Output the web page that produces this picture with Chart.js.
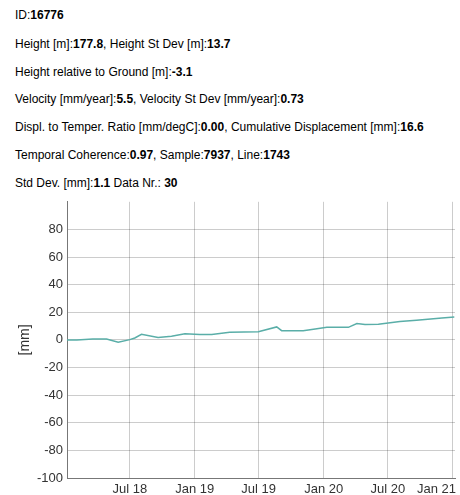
<!DOCTYPE html>
<html>
<head>
<meta charset="utf-8">
<script src="https://cdn.jsdelivr.net/npm/chart.js@4/dist/chart.umd.min.js"></script>
<style>
  html, body { margin: 0; padding: 0; background: #fff; }
  body { width: 460px; height: 495px; position: relative; overflow: hidden;
         font-family: "Liberation Sans", Arial, sans-serif; font-size: 12px; color: #000; }
  .info { position: absolute; left: 15px; white-space: nowrap; line-height: 14px; }
  #wrap { position: absolute; left: 0; top: 190px; width: 460px; height: 305px; }
</style>
</head>
<body>
<div class="info" style="top:8px">ID:<b>16776</b></div>
<div class="info" style="top:37px">Height [m]:<b>177.8</b>, Height St Dev [m]:<b>13.7</b></div>
<div class="info" style="top:65px">Height relative to Ground [m]:<b>-3.1</b></div>
<div class="info" style="top:92px">Velocity [mm/year]:<b>5.5</b>, Velocity St Dev [mm/year]:<b>0.73</b></div>
<div class="info" style="top:120px">Displ. to Temper. Ratio [mm/degC]:<b>0.00</b>, Cumulative Displacement [mm]:<b>16.6</b></div>
<div class="info" style="top:148px">Temporal Coherence:<b>0.97</b>, Sample:<b>7937</b>, Line:<b>1743</b></div>
<div class="info" style="top:176px">Std Dev. [mm]:<b>1.1</b> Data Nr.: <b>30</b></div>
<div id="wrap"><canvas id="c"></canvas></div>
<script>
// Acquisition dates and cumulative displacement [mm]
const dates = [
  "2018-01-04","2018-02-01","2018-03-18","2018-04-26","2018-05-29","2018-07-01",
  "2018-07-15","2018-08-03","2018-09-19","2018-10-27","2018-12-04","2019-01-15",
  "2019-02-18","2019-04-10","2019-05-20","2019-06-30","2019-08-21","2019-09-04",
  "2019-11-04","2019-12-08","2020-01-10","2020-03-11","2020-04-04","2020-04-27",
  "2020-06-04","2020-08-04","2020-09-20","2020-11-07","2020-12-01","2021-01-05"
];
const displacement = [
  0.0, 0.0, 0.7, 0.7, -1.7, 0.2,
  1.4, 4.0, 1.7, 2.6, 4.5, 4.0,
  4.0, 5.5, 5.8, 5.9, 9.4, 6.7,
  6.7, 7.9, 9.1, 9.1, 11.8, 11.1,
  11.3, 13.4, 14.3, 15.3, 15.8, 16.6
];
// Time axis ticks
const tickDates = ["2018-07-01","2019-01-01","2019-07-01","2020-01-01","2020-07-01","2021-01-01"];
const tickLabels = ["Jul 18","Jan 19","Jul 19","Jan 20","Jul 20","Jan 21"];
const yTicks = [-100, -80, -60, -40, -20, 0, 20, 40, 60, 80];

const toMs = s => Date.parse(s + "T00:00:00Z");
const points = dates.map((d, i) => ({ x: toMs(d), y: displacement[i] }));
const tickValues = tickDates.map(toMs);

const tickFont = { family: '"Liberation Sans", Arial, sans-serif', size: 13 };

// x tick labels, kept inside the canvas at the right edge
const xLabels = {
  id: 'xLabels',
  afterDraw(chart) {
    const sx = chart.scales.x, ctx = chart.ctx;
    ctx.save();
    ctx.font = '13px "Liberation Sans", Arial, sans-serif';
    ctx.fillStyle = '#333';
    ctx.textBaseline = 'middle';
    ctx.textAlign = 'left';
    tickValues.forEach((v, i) => {
      const px = sx.getPixelForValue(v);
      const w = ctx.measureText(tickLabels[i]).width;
      let left = px - w / 2;
      const maxRight = chart.width - 4;
      if (left + w > maxRight) left = maxRight - w;
      ctx.fillText(tickLabels[i], left, sx.top + 11);
    });
    ctx.restore();
  }
};

new Chart(document.getElementById('c'), {
  type: 'line',
  data: {
    datasets: [{
      data: points,
      borderColor: '#5aaea8',
      borderWidth: 1.5,
      pointRadius: 0,
      fill: false,
      tension: 0
    }]
  },
  options: {
    responsive: true,
    maintainAspectRatio: false,
    animation: false,
    layout: { padding: { top: 0, right: 5, left: 0, bottom: 0 } },
    plugins: { legend: { display: false }, tooltip: { enabled: false } },
    scales: {
      x: {
        type: 'linear',
        min: toMs(dates[0]),
        max: toMs(dates[dates.length - 1]) + 2 * 86400000,
        afterBuildTicks: s => { s.ticks = tickValues.map(v => ({ value: v })); },
        afterFit: s => { s.height = 17; },
        ticks: { display: false },
        grid: { color: 'rgba(0,0,0,0.2)', drawTicks: false },
        border: { color: '#777' }
      },
      y: {
        min: -100,
        max: 100,
        afterBuildTicks: s => { s.ticks = yTicks.map(v => ({ value: v })).concat([{ value: 100 }]); },
        afterFit: s => { s.width = 67; },
        ticks: {
          font: tickFont,
          color: '#333',
          padding: 4,
          callback: v => (v === 100 ? '' : v)
        },
        grid: {
          drawTicks: false,
          color: c => (c.tick && c.tick.value === 100 ? 'rgba(0,0,0,0)' : 'rgba(0,0,0,0.2)')
        },
        border: { color: '#777' },
        title: {
          display: true,
          text: '[mm]',
          font: { family: '"Liberation Sans", Arial, sans-serif', size: 14 },
          color: '#333',
          padding: { top: 17, bottom: 0 }
        }
      }
    }
  },
  plugins: [xLabels]
});
</script>
</body>
</html>
